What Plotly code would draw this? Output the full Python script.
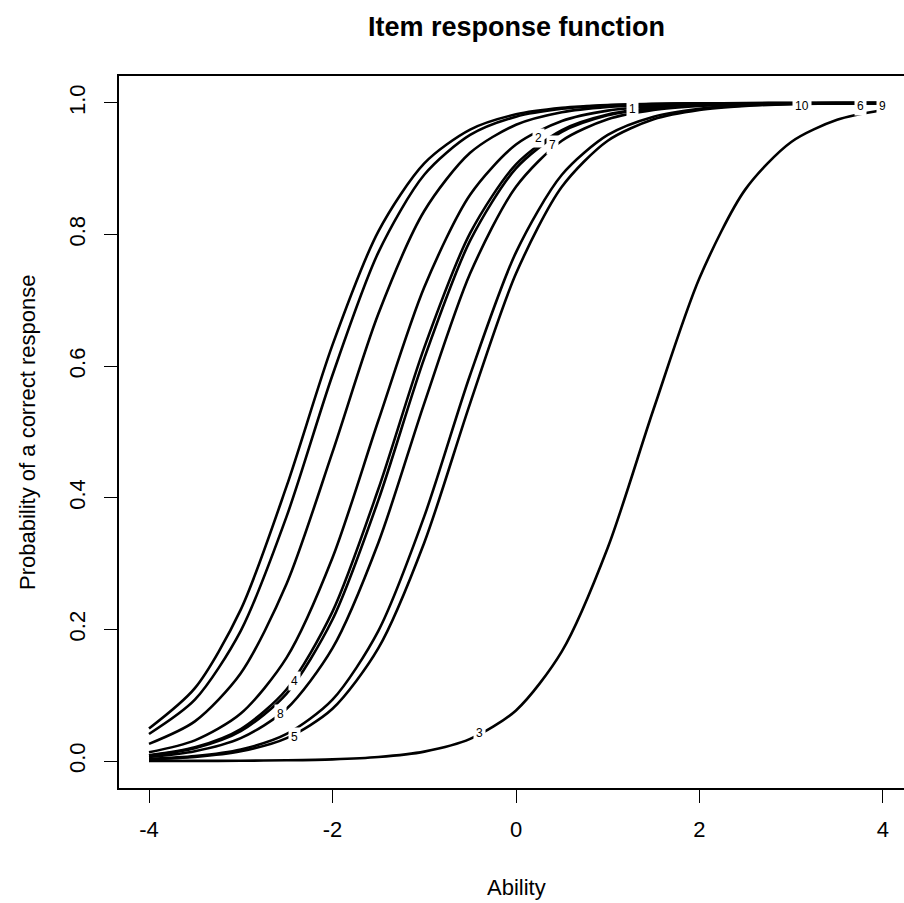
import plotly.graph_objects as go

# ---- data ----
ability = [-4, -3.5, -3, -2.5, -2, -1.5, -1, -0.5, 0, 0.5, 1, 1.5, 2, 2.5, 3, 3.5, 4]

item9 = [0.0494, 0.1107, 0.2301, 0.4177, 0.6324, 0.8050, 0.9083, 0.9596, 0.9828, 0.9927, 0.9970, 0.9987, 0.9995, 0.9998, 0.9999, 1.0, 1.0]
item6 = [0.0411, 0.0932, 0.1978, 0.3717, 0.5866, 0.7730, 0.8909, 0.9514, 0.9792, 0.9912, 0.9963, 0.9985, 0.9994, 0.9997, 0.9999, 1.0, 1.0]
item1 = [0.0260, 0.0602, 0.1333, 0.2694, 0.4694, 0.6797, 0.8358, 0.9243, 0.9670, 0.9860, 0.9941, 0.9975, 0.9990, 0.9996, 0.9998, 0.9999, 1.0]
item2 = [0.0133, 0.0314, 0.0721, 0.1571, 0.3089, 0.5175, 0.7200, 0.8606, 0.9368, 0.9726, 0.9884, 0.9951, 0.9980, 0.9992, 0.9996, 0.9999, 0.9999]
item4 = [0.0088, 0.0208, 0.0486, 0.1091, 0.2271, 0.4134, 0.6283, 0.8022, 0.9068, 0.9589, 0.9825, 0.9926, 0.9969, 0.9987, 0.9995, 0.9998, 0.9999]
item7 = [0.0082, 0.0195, 0.0455, 0.1025, 0.2150, 0.3965, 0.6118, 0.7908, 0.9007, 0.9560, 0.9812, 0.9921, 0.9967, 0.9986, 0.9994, 0.9998, 0.9999]
item8 = [0.0062, 0.0148, 0.0347, 0.0794, 0.1715, 0.3318, 0.5436, 0.7408, 0.8727, 0.9427, 0.9753, 0.9895, 0.9956, 0.9982, 0.9992, 0.9997, 0.9999]
item10 = [0.0031, 0.0074, 0.0175, 0.0411, 0.0932, 0.1978, 0.3717, 0.5866, 0.7730, 0.8909, 0.9514, 0.9792, 0.9912, 0.9963, 0.9985, 0.9994, 0.9997]
item5 = [0.0026, 0.0062, 0.0148, 0.0347, 0.0794, 0.1715, 0.3318, 0.5436, 0.7408, 0.8727, 0.9427, 0.9753, 0.9895, 0.9956, 0.9982, 0.9992, 0.9997]
item3 = [0.0001, 0.0002, 0.0004, 0.0011, 0.0025, 0.0060, 0.0143, 0.0336, 0.0769, 0.1666, 0.3241, 0.5349, 0.7340, 0.8687, 0.9408, 0.9744, 0.9892]

items = {"1": item1, "2": item2, "3": item3, "4": item4, "5": item5,
         "6": item6, "7": item7, "8": item8, "9": item9, "10": item10}

# item label positions on the curves
label_text = ["1", "10", "6", "9", "2", "7", "4", "8", "5", "3"]
label_x = [1.275, 3.117, 3.75, 4.0, 0.24, 0.40, -2.41, -2.57, -2.41, -0.40]
label_y = [0.991, 0.995, 0.995, 0.995, 0.947, 0.936, 0.122, 0.071, 0.036, 0.043]

x_tickvals = [-4, -2, 0, 2, 4]
x_ticktext = ["-4", "-2", "0", "2", "4"]
y_tickvals = [0.0, 0.2, 0.4, 0.6, 0.8, 1.0]
y_ticktext = ["0.0", "0.2", "0.4", "0.6", "0.8", "1.0"]

FONT = "Liberation Sans, Arial, Helvetica, sans-serif"

fig = go.Figure()
for name, vals in items.items():
    fig.add_trace(go.Scatter(
        x=ability, y=vals, mode="lines", name="Item " + name,
        line=dict(color="black", width=2.6, shape="spline", smoothing=0.8),
        showlegend=False, hoverinfo="skip"))

for t, lx, ly in zip(label_text, label_x, label_y):
    fig.add_annotation(x=lx, y=ly, xref="x", yref="y", text=t, showarrow=False,
                       bgcolor="white", borderpad=2,
                       font=dict(family=FONT, size=12, color="black"))

# titles
fig.add_annotation(x=0, y=1, xref="x", yref="paper", yshift=49, text="<b>Item response function</b>",
                   showarrow=False, font=dict(family=FONT, size=27, color="black"),
                   xanchor="center", yanchor="middle")
fig.add_annotation(x=0, y=0, xref="x", yref="paper", yshift=-99, text="Ability",
                   showarrow=False, font=dict(family=FONT, size=22, color="black"),
                   xanchor="center", yanchor="middle")
fig.add_annotation(x=0, y=0.5, xref="paper", yref="paper", xshift=-92, text="Probability of a correct response",
                   textangle=-90, showarrow=False, font=dict(family=FONT, size=22, color="black"),
                   xanchor="center", yanchor="middle")

fig.update_layout(
    width=904, height=903,
    margin=dict(l=119, r=0, t=76, b=115),
    paper_bgcolor="white", plot_bgcolor="white",
    font=dict(family=FONT, size=22, color="black"),
)
fig.update_xaxes(range=[-4.327, 4.229], tickvals=x_tickvals, ticktext=x_ticktext,
                 showgrid=False, zeroline=False, showline=True, linecolor="black", linewidth=1.5,
                 mirror=True, ticks="outside", ticklen=13, tickwidth=1.2, tickcolor="black",
                 ticklabelstandoff=8, tickfont=dict(family=FONT, size=22, color="black"))
fig.update_yaxes(range=[-0.041, 1.041], tickvals=y_tickvals, ticktext=y_ticktext,
                 showgrid=False, zeroline=False, showline=True, linecolor="black", linewidth=1.5,
                 mirror=False, ticks="outside", ticklen=13, tickwidth=1.2, tickcolor="black",
                 tickangle=-90, ticklabelstandoff=10, tickfont=dict(family=FONT, size=22, color="black"))

fig.write_html("out.html", config={"displayModeBar": False},
               post_script="document.body.style.margin='0';document.body.style.overflow='hidden';")
